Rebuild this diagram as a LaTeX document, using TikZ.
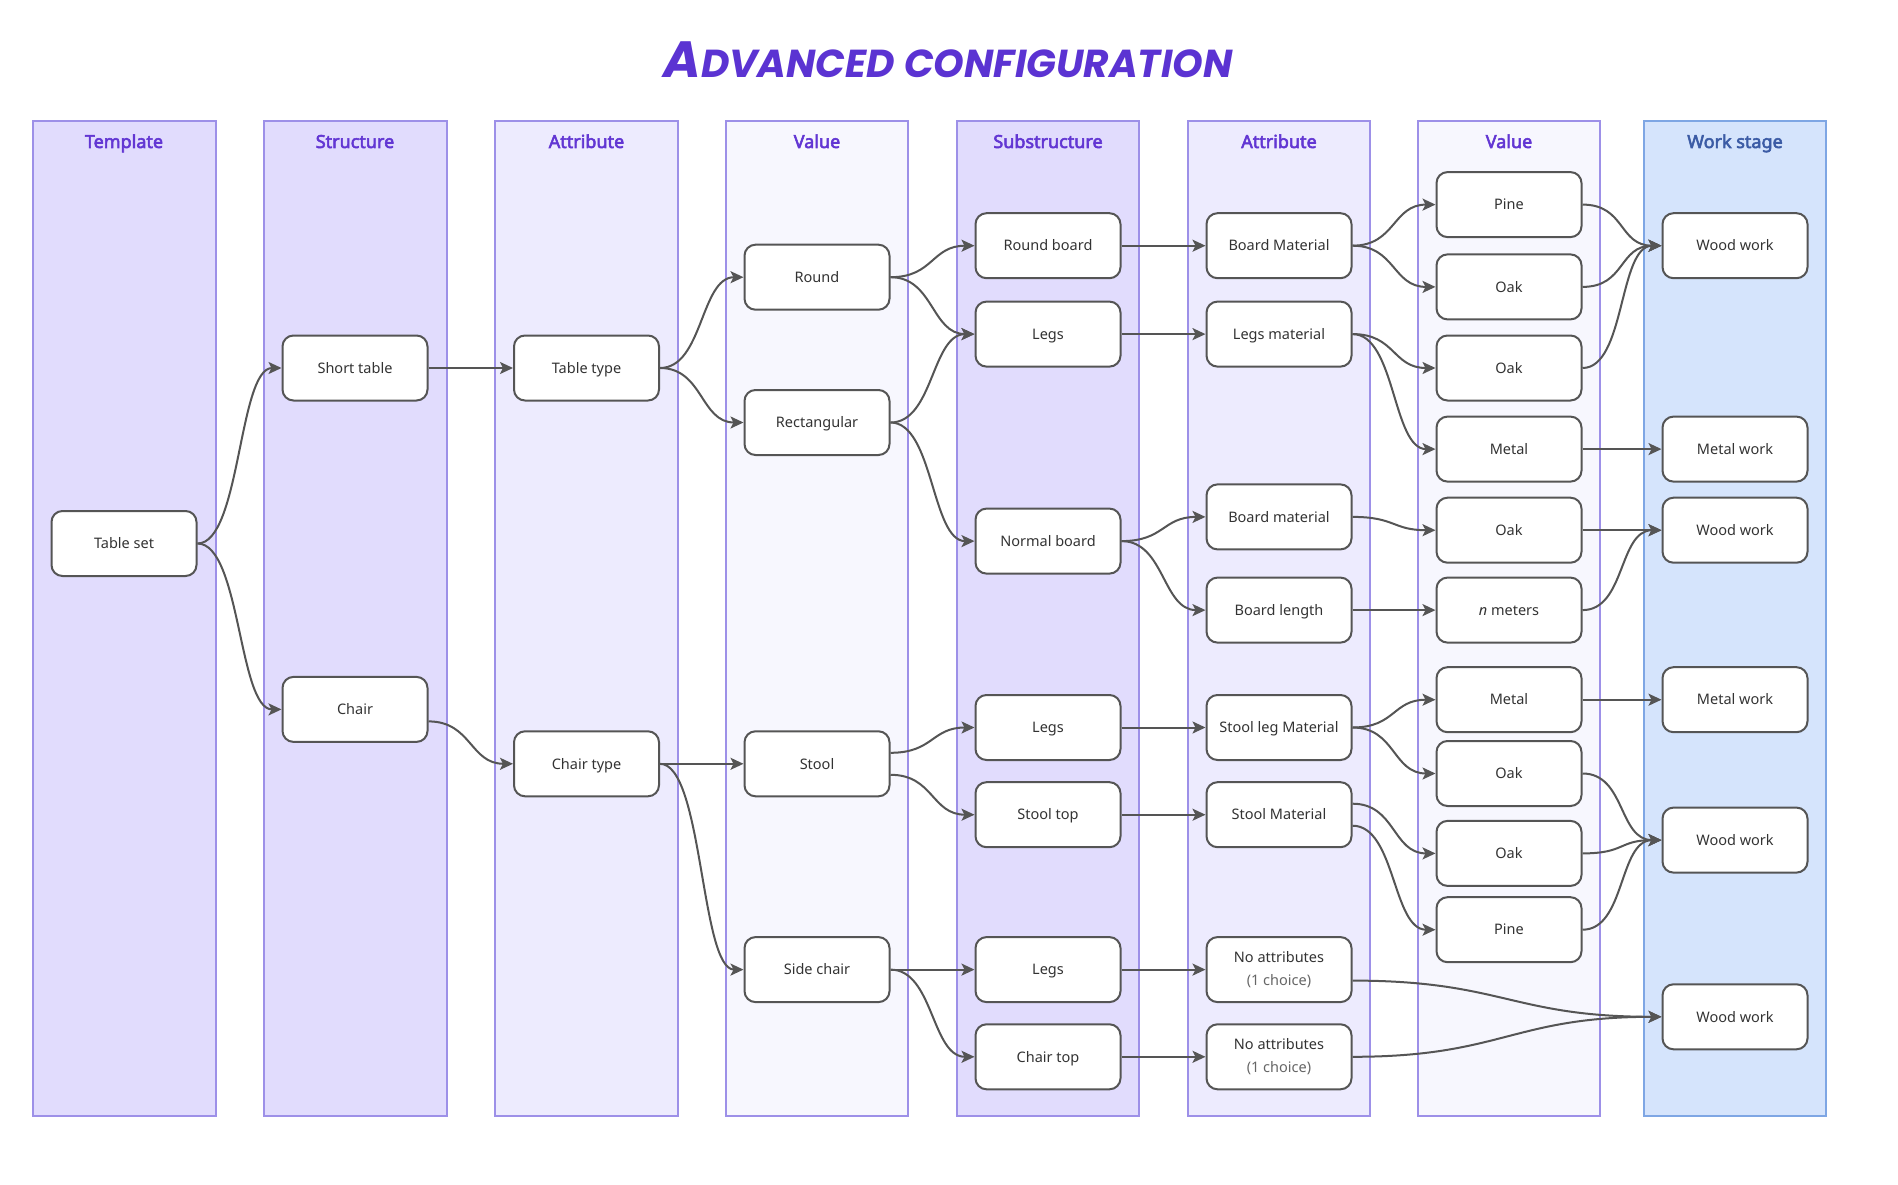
\documentclass[tikz,border=0pt]{standalone}
\usepackage{fontspec}
\setmainfont{Noto Sans}
\newfontfamily\hdrfont{Noto Sans}[AutoFakeBold=3]
\newfontfamily\titlefont{Poppins}
\usetikzlibrary{arrows.meta,calc}
\definecolor{colA}{HTML}{E1DCFD}
\definecolor{colB}{HTML}{EDEBFE}
\definecolor{colC}{HTML}{F7F7FE}
\definecolor{colW}{HTML}{D5E4FC}
\definecolor{colborder}{HTML}{9D90E8}
\definecolor{colWborder}{HTML}{7EA6E4}
\definecolor{hdrpurple}{HTML}{6236D3}
\definecolor{hdrblue}{HTML}{3B5BA5}
\definecolor{titlecol}{HTML}{5B33D2}
\definecolor{nodeborder}{HTML}{555555}
\definecolor{edgecol}{HTML}{555555}
\definecolor{nodetext}{HTML}{333333}
\definecolor{subtext}{HTML}{666666}
\tikzset{
  colbox/.style={draw=colborder, line width=2pt},
  hdr/.style={font=\hdrfont\fontsize{18}{22}\selectfont\bfseries, text=hdrpurple, anchor=base},
  boxbase/.style={draw=nodeborder, line width=2pt, fill=white, rounded corners=11pt,
    minimum width=145pt, minimum height=65pt, text=nodetext, align=center,
    font=\fontsize{14.5}{22}\selectfont, inner sep=0pt},
  box/.style={boxbase, text height=10.5pt, text depth=0pt},
  edge/.style={draw=edgecol, line width=2pt, -{Stealth[length=13pt,width=12pt,inset=3pt]}},
}
\newcommand\cc[3][0pt]{\draw[edge] ([yshift=#1]#2.east) .. controls ([xshift=43pt,yshift=#1]#2.east) and ([xshift=-43pt]#3.west) .. (#3.west);}
\newcommand\ccl[3][0pt]{\draw[edge] ([yshift=#1]#2.east) .. controls ([xshift=150pt,yshift=#1]#2.east) and ([xshift=-150pt]#3.west) .. (#3.west);}
\begin{document}
\begin{tikzpicture}[x=1pt,y=-1pt]
\useasboundingbox[fill=white] (0,0) rectangle (1898,1185);
% title
\node[text=titlecol, font=\titlefont\bfseries\itshape] (title) at (948,60)
  {\fontsize{51}{55}\selectfont A\fontsize{39}{44}\selectfont DVANCED CONFIGURATION};
% columns
\draw[colbox, fill=colA] (33,121) rectangle (215.5,1116);
\draw[colbox, fill=colA] (264,121) rectangle (446.5,1116);
\draw[colbox, fill=colB] (495,121) rectangle (677.5,1116);
\draw[colbox, fill=colC] (726,121) rectangle (908,1116);
\draw[colbox, fill=colA] (956.5,121) rectangle (1139,1116);
\draw[colbox, fill=colB] (1187.5,121) rectangle (1370,1116);
\draw[colbox, fill=colC] (1418,121) rectangle (1600,1116);
\draw[draw=colWborder, line width=2pt, fill=colW] (1644,121) rectangle (1825.5,1116);
% headers
\node[hdr] (h1) at (124,148) {Template};
\node[hdr] (h2) at (355,148) {Structure};
\node[hdr] (h3) at (586.5,148) {Attribute};
\node[hdr] (h4) at (817,148) {Value};
\node[hdr] (h5) at (1048,148) {Substructure};
\node[hdr] (h6) at (1279,148) {Attribute};
\node[hdr] (h7) at (1509,148) {Value};
\node[hdr, text=hdrblue] (h8) at (1735,148) {Work stage};
% nodes
\node[box] (tset) at (124,543.5) {Table set};
\node[box] (short) at (355,368) {Short table};
\node[box] (chair) at (355,709.4) {Chair};
\node[box] (ttype) at (586.5,368) {Table type};
\node[box] (ctype) at (586.5,763.8) {Chair type};
\node[box] (round) at (817,277.2) {Round};
\node[box] (rect) at (817,422.5) {Rectangular};
\node[box] (stool) at (817,763.8) {Stool};
\node[box] (side) at (817,969.6) {Side chair};
\node[box] (rboard) at (1048,245.7) {Round board};
\node[box] (legsA) at (1048,334.1) {Legs};
\node[box] (nboard) at (1048,541.1) {Normal board};
\node[box] (legsB) at (1048,727.5) {Legs};
\node[box] (stop) at (1048,814.7) {Stool top};
\node[box] (legsC) at (1048,969.6) {Legs};
\node[box] (ctop) at (1048,1056.8) {Chair top};
\node[box] (bmatA) at (1279,245.7) {Board Material};
\node[box] (lmat) at (1279,334.1) {Legs material};
\node[box] (bmatB) at (1279,516.9) {Board material};
\node[box] (blen) at (1279,610.1) {Board length};
\node[box] (slmat) at (1279,727.5) {Stool leg Material};
\node[box] (smat) at (1279,814.7) {Stool Material};
\node[boxbase] (noA) at (1279,969.6) {No attributes\\[1pt]\textcolor{subtext}{(1 choice)}};
\node[boxbase] (noB) at (1279,1056.8) {No attributes\\[1pt]\textcolor{subtext}{(1 choice)}};
\node[box] (pineA) at (1509,204.6) {Pine};
\node[box] (oakA) at (1509,286.9) {Oak};
\node[box] (oakB) at (1509,368) {Oak};
\node[box] (metalA) at (1509,449.1) {Metal};
\node[box] (oakC) at (1509,530.2) {Oak};
\node[box] (nmet) at (1509,610.1) {\textit{n} meters};
\node[box] (metalB) at (1509,699.7) {Metal};
\node[box] (oakD) at (1509,773.5) {Oak};
\node[box] (oakE) at (1509,853.4) {Oak};
\node[box] (pineB) at (1509,929.7) {Pine};
\node[box] (wwA) at (1735,245.7) {Wood work};
\node[box] (mwA) at (1735,449.1) {Metal work};
\node[box] (wwB) at (1735,530.2) {Wood work};
\node[box] (mwB) at (1735,699.7) {Metal work};
\node[box] (wwC) at (1735,840.1) {Wood work};
\node[box] (wwD) at (1735,1016.8) {Wood work};
% edges
\cc{tset}{short}
\cc{tset}{chair}
\cc{short}{ttype}
\cc[-12pt]{chair}{ctype}
\cc{ttype}{round}
\cc{ttype}{rect}
\cc{ctype}{stool}
\cc{ctype}{side}
\cc{round}{rboard}
\cc{round}{legsA}
\cc{rect}{legsA}
\cc{rect}{nboard}
\cc[11pt]{stool}{legsB}
\cc[-11pt]{stool}{stop}
\cc{side}{legsC}
\cc{side}{ctop}
\cc{rboard}{bmatA}
\cc{legsA}{lmat}
\cc{nboard}{bmatB}
\cc{nboard}{blen}
\cc{legsB}{slmat}
\cc{stop}{smat}
\cc{legsC}{noA}
\cc{ctop}{noB}
\cc{bmatA}{pineA}
\cc{bmatA}{oakA}
\cc{lmat}{oakB}
\cc{lmat}{metalA}
\cc{bmatB}{oakC}
\cc{blen}{nmet}
\cc{slmat}{metalB}
\cc{slmat}{oakD}
\cc[11pt]{smat}{oakE}
\cc[-11pt]{smat}{pineB}
\cc{pineA}{wwA}
\cc{oakA}{wwA}
\cc{oakB}{wwA}
\cc{metalA}{mwA}
\cc{oakC}{wwB}
\cc{nmet}{wwB}
\cc{metalB}{mwB}
\cc{oakD}{wwC}
\cc{oakE}{wwC}
\cc{pineB}{wwC}
\ccl[-11pt]{noA}{wwD}
\ccl{noB}{wwD}
\end{tikzpicture}
\end{document}
